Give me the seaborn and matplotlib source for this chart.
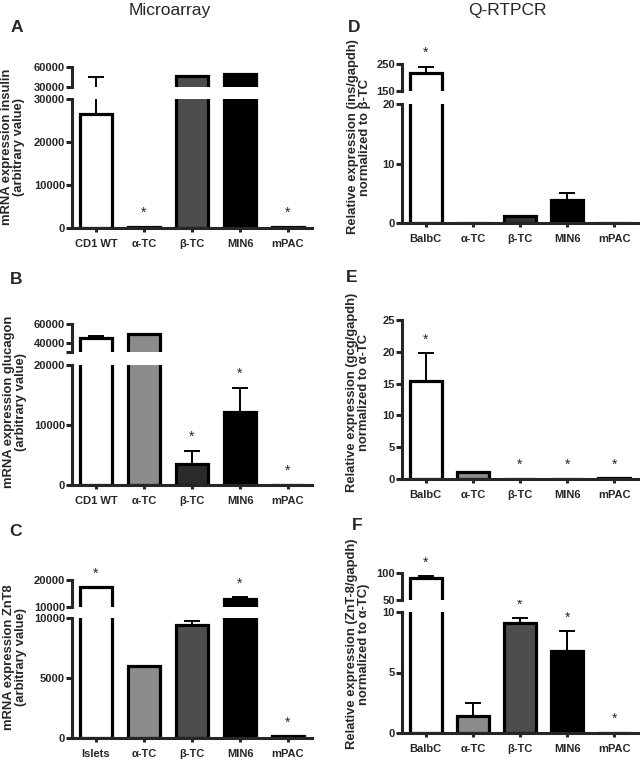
import numpy as np
import pandas as pd
import matplotlib
matplotlib.use("Agg")
import matplotlib.pyplot as plt
import seaborn as sns

# categories
cats_micro = ["CD1 WT", "α-TC", "β-TC", "MIN6", "mPAC"]
cats_islet = ["Islets", "α-TC", "β-TC", "MIN6", "mPAC"]
cats_pcr = ["BalbC", "α-TC", "β-TC", "MIN6", "mPAC"]

# values (mean, upper error)
ins_micro = [26500, 300, 46500, 49500, 250]
ins_micro_err = [18000, 0, 0, 0, 0]
gcg_micro = [45000, 49000, 3500, 12200, 60]
gcg_micro_err = [2000, 0, 2200, 4000, 0]
znt_micro = [17400, 6000, 9400, 13000, 150]
znt_micro_err = [0, 0, 350, 700, 0]
ins_pcr = [217, 0.05, 1.1, 3.9, 0.03]
ins_pcr_err = [22, 0, 0, 1.1, 0]
gcg_pcr = [15.4, 1.1, 0.04, 0.03, 0.08]
gcg_pcr_err = [4.4, 0, 0, 0, 0]
znt_pcr = [91, 1.4, 9.1, 6.75, 0.02]
znt_pcr_err = [3, 1.1, 0.4, 1.65, 0]

# significance marks
stars_A = [False, True, False, False, True]
stars_B = [False, False, True, True, True]
stars_C = [True, False, False, True, True]
stars_D = [True, False, False, False, False]
stars_E = [True, False, True, True, True]
stars_F = [True, False, True, True, True]

sns.set_style("ticks")
plt.rcParams["font.family"] = ["Liberation Sans", "DejaVu Sans"]

W, H = 640, 762
fig = plt.figure(figsize=(W / 100, H / 100), dpi=100)


def px_axes(x0, y0, x1, y1):
    return fig.add_axes([x0 / W, 1 - y1 / H, (x1 - x0) / W, (y1 - y0) / H])


def style(ax, lo=True):
    for s in ["top", "right"]:
        ax.spines[s].set_visible(False)
    ax.spines["left"].set_linewidth(2.2)
    ax.spines["bottom"].set_linewidth(2.2)
    ax.tick_params(axis="y", direction="out", length=4, width=2.2, labelsize=8, pad=1)
    ax.tick_params(axis="x", direction="out", length=3, width=2.2, labelsize=8, pad=5)
    if lo:
        for t in ax.get_xticklabels():
            t.set_fontweight("bold")
    else:
        ax.spines["bottom"].set_visible(False)
        ax.set_xticks([])
    ax.set_xlabel("")
    ax.set_ylabel("")


def bars(ax, cats, vals, errs, colors, floor=None):
    df = pd.DataFrame({"cat": cats, "val": vals})
    sns.barplot(data=df, x="cat", y="val", hue="cat", palette=dict(zip(cats, colors)),
                legend=False, width=0.68, edgecolor="black", linewidth=2.3,
                errorbar=None, ax=ax)
    idx = [i for i, e in enumerate(errs) if e > 0 and (floor is None or vals[i] + e > floor)]
    if idx:
        ax.errorbar(idx, [vals[i] for i in idx],
                    yerr=[[0] * len(idx), [errs[i] for i in idx]],
                    fmt="none", ecolor="black", elinewidth=1.4, capsize=6, capthick=1.4)
    ax.set_xlim(-0.5, 4.5)


def panel(rect_lo, rect_hi, cats, vals, errs, colors, lo_lim, lo_ticks,
          hi_lim=None, hi_ticks=None, hi_labels=None, stars=None):
    ax_lo = px_axes(*rect_lo)
    bars(ax_lo, cats, vals, errs, colors)
    ax_lo.set_ylim(*lo_lim)
    ax_lo.set_yticks(lo_ticks)
    ax_lo.set_yticklabels([str(t) for t in lo_ticks], fontweight="bold")
    style(ax_lo, lo=True)
    ax_hi = None
    if rect_hi is not None:
        ax_hi = px_axes(*rect_hi)
        bars(ax_hi, cats, vals, errs, colors, floor=hi_lim[0])
        ax_hi.set_ylim(*hi_lim)
        ax_hi.set_yticks(hi_ticks)
        ax_hi.set_yticklabels(hi_labels if hi_labels else [str(t) for t in hi_ticks],
                              fontweight="bold")
        style(ax_hi, lo=False)
    for i, s in enumerate(stars):
        if not s:
            continue
        top = vals[i] + errs[i]
        ax = ax_hi if (ax_hi is not None and top > lo_lim[1]) else ax_lo
        ax.annotate("*", xy=(i, top), xytext=(0, 7), textcoords="offset points",
                    ha="center", va="baseline", fontsize=10, annotation_clip=False)
    return ax_lo, ax_hi


col_std = ["white", "#8c8c8c", "#4d4d4d", "black", "white"]

# A
panel((72, 99, 312, 228), (72, 67, 312, 87), cats_micro, ins_micro, ins_micro_err,
      col_std, (0, 30000), [0, 10000, 20000, 30000],
      (30000, 60000), [30000, 60000], None, stars_A)
# B
panel((72, 365, 312, 485), (72, 324, 312, 352), cats_micro, gcg_micro, gcg_micro_err,
      ["white", "#8c8c8c", "#2b2b2b", "black", "white"], (0, 20000), [0, 10000, 20000],
      (30000, 60000), [30000, 40000, 60000], ["", "40000", "60000"], stars_B)
# C
panel((72, 618, 312, 738), (72, 580, 312, 607), cats_islet, znt_micro, znt_micro_err,
      col_std, (0, 10000), [0, 5000, 10000],
      (10000, 20000), [10000, 20000], None, stars_C)
# D
panel((402, 104, 638, 223), (402, 64, 638, 91), cats_pcr, ins_pcr, ins_pcr_err,
      ["white", "#8c8c8c", "#333333", "black", "white"], (0, 20), [0, 10, 20],
      (150, 250), [150, 250], None, stars_D)
# E
panel((402, 320, 638, 479), None, cats_pcr, gcg_pcr, gcg_pcr_err,
      col_std, (0, 25), [0, 5, 10, 15, 20, 25], stars=stars_E)
# F
panel((402, 612, 638, 733), (402, 573, 638, 600), cats_pcr, znt_pcr, znt_pcr_err,
      col_std, (0, 10), [0, 5, 10],
      (50, 100), [50, 100], None, stars_F)

# y labels
ylabels = [
    (13, 147, "mRNA expression insulin\n(arbitrary value)"),
    (15, 402, "mRNA expression glucagon\n(arbitrary value)"),
    (15, 657, "mRNA expression ZnT8\n(arbitrary value)"),
    (359, 137, "Relative expression (ins/gapdh)\nnormalized to β-TC"),
    (358, 392, "Relative expression (gcg/gapdh)\nnormalized to α-TC"),
    (358, 644, "Relative expression (ZnT-8/gapdh)\nnormalized to α-TC)"),
]
for x, y, t in ylabels:
    fig.text(x / W, 1 - y / H, t, rotation=90, ha="center", va="center",
             multialignment="center", fontsize=9.4, fontweight="bold", linespacing=1.1)

# panel letters and titles
for x, y, t in [(17, 28, "A"), (354, 28, "D"), (16, 279, "B"), (352, 278, "E"),
                (15, 531, "C"), (357, 526, "F")]:
    fig.text(x / W, 1 - y / H, t, ha="center", va="center", fontsize=12.5, fontweight="bold")
fig.text(170 / W, 1 - 11 / H, "Microarray", ha="center", va="center", fontsize=12.5)
fig.text(507 / W, 1 - 11 / H, "Q-RTPCR", ha="center", va="center", fontsize=12.5)

fig.savefig("out.png", dpi=100)
